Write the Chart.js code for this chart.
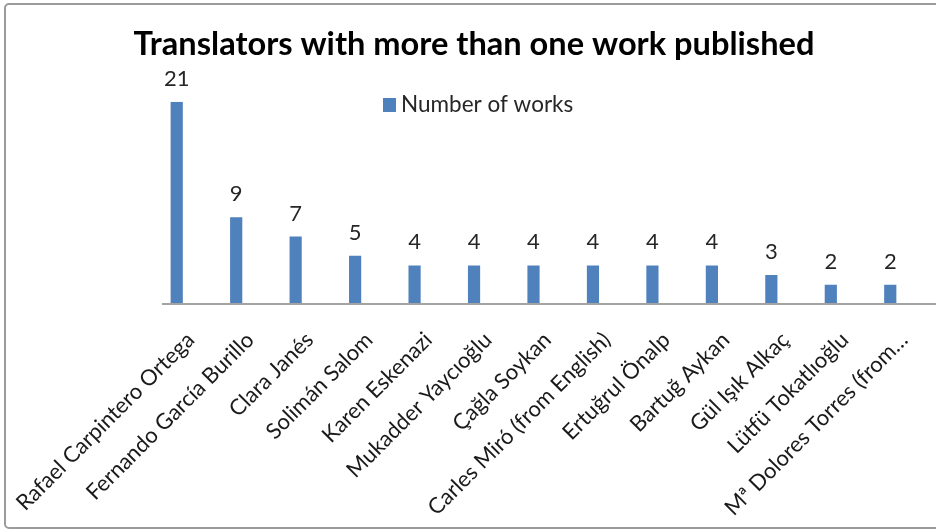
<!DOCTYPE html>
<html><head><meta charset="utf-8">
<script src="https://cdn.jsdelivr.net/npm/chart.js@4"></script>
<style>
html,body{margin:0;padding:0;background:#fff;overflow:hidden;width:936px;height:532px}
#frame{position:absolute;left:4px;top:3px;width:1000px;height:526px;border:2px solid #9b9b9b;border-radius:5px;box-sizing:border-box}
#wrap{position:absolute;left:0;top:0;width:936px;height:532px}
</style></head><body>
<div id="frame"></div>
<div id="wrap"><canvas id="c" width="936" height="532"></canvas></div>
<script>
const categories = [
  "Rafael Carpintero Ortega",
  "Fernando García Burillo",
  "Clara Janés",
  "Solimán Salom",
  "Karen Eskenazi",
  "Mukadder Yaycıoğlu",
  "Çağla Soykan",
  "Carles Miró (from English)",
  "Ertuğrul Önalp",
  "Bartuğ Aykan",
  "Gül Işık Alkaç",
  "Lütfü Tokatlıoğlu",
  "Mª Dolores Torres (from…"
];
const works = [21, 9, 7, 5, 4, 4, 4, 4, 4, 4, 3, 2, 2];
const seriesName = "Number of works";
const chartTitle = "Translators with more than one work published";

const FONT = "Lato";
const BLUE = "#4F81BD";

const valueLabels = {
  id: "valueLabels",
  afterDatasetsDraw(chart) {
    const ctx = chart.ctx;
    const meta = chart.getDatasetMeta(0);
    ctx.save();
    ctx.font = "22px " + FONT;
    ctx.fillStyle = "#262626";
    ctx.textAlign = "center";
    ctx.textBaseline = "alphabetic";
    meta.data.forEach((bar, i) => {
      ctx.fillText(String(chart.data.datasets[0].data[i]), bar.x, bar.y - 16);
    });
    ctx.restore();
  }
};

const axisLine = {
  id: "axisLine",
  afterDatasetsDraw(chart) {
    const ctx = chart.ctx;
    const y = chart.scales.y.getPixelForValue(0);
    ctx.save();
    ctx.strokeStyle = "#a3a3a3";
    ctx.lineWidth = 2;
    ctx.beginPath();
    ctx.moveTo(chart.chartArea.left + 15, y);
    ctx.lineTo(chart.width, y);
    ctx.stroke();
    ctx.restore();
  }
};

const innerLegend = {
  id: "innerLegend",
  afterDraw(chart) {
    const ctx = chart.ctx;
    const ds = chart.data.datasets[0];
    ctx.save();
    ctx.fillStyle = ds.backgroundColor;
    ctx.fillRect(383, 98, 13, 14);
    ctx.font = "22.5px " + FONT;
    ctx.fillStyle = "#262626";
    ctx.textAlign = "left";
    ctx.textBaseline = "middle";
    ctx.fillText(ds.label, 401, 105);
    ctx.restore();
  }
};

new Chart(document.getElementById("c"), {
  type: "bar",
  data: {
    labels: categories,
    datasets: [{
      label: seriesName,
      data: works,
      backgroundColor: BLUE,
      borderWidth: 0,
      barPercentage: 0.205,
      categoryPercentage: 1
    }]
  },
  options: {
    responsive: false,
    animation: false,
    devicePixelRatio: 1,
    layout: { padding: { left: 28, right: 16, top: 0, bottom: 0 } },
    plugins: {
      legend: { display: false },
      tooltip: { enabled: false },
      title: {
        display: true,
        text: chartTitle,
        color: "#000",
        font: { family: FONT, weight: "bold", size: 32.6 },
        padding: { top: 25.3, bottom: 37.3 }
      }
    },
    scales: {
      x: {
        grid: { display: false },
        border: { display: false },
        ticks: {
          autoSkip: false,
          maxRotation: 45,
          minRotation: 45,
          color: "#1a1a1a",
          font: { family: FONT, size: 22 },
          padding: 15,
          labelOffset: 14
        },
        afterFit(scale) {
          scale.height = 228;
          scale.paddingLeft = 0;
          scale.paddingRight = 0;
        }
      },
      y: {
        min: 0,
        max: 21,
        grid: { display: false },
        border: { display: false },
        ticks: { display: false },
        afterFit(scale) { scale.width = 119; }
      }
    }
  },
  plugins: [valueLabels, axisLine, innerLegend]
});
</script>
</body></html>
